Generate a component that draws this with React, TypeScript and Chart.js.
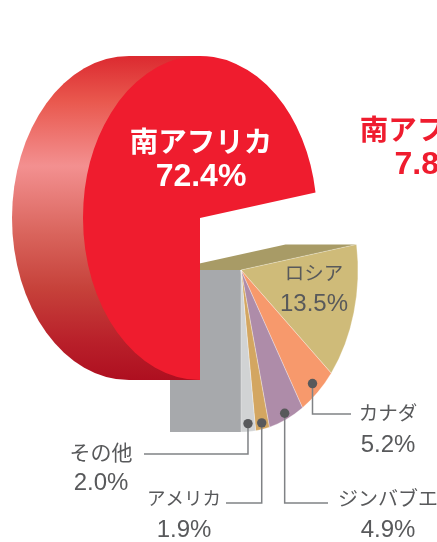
import React, { useEffect, useRef } from "react";
import { Chart, registerables } from "chart.js";

Chart.register(...registerables);

const categories = ["南アフリカ", "ロシア", "カナダ", "ジンバブエ", "アメリカ", "その他"];
const shares = [72.4, 13.5, 5.2, 4.9, 1.9, 2.0];
const sliceColors = ["#ef1c2e", "#cfbb79", "#f7996c", "#ae8ca9", "#d3a661", "#d1d3d4"];

const W = 437;
const H = 542;
const FONT = '"Liberation Sans", "Noto Sans CJK JP", sans-serif';
const GREY = "#58595b";
const RX = 117;
const RY = 162;
const DEPTH = 71;
const EXPLODE = { x: 41, y: 52 };

const labels = [
  { i: 0, x: 201, y: 144, size: 28.5, numSize: 32, gap: 33, weight: "bold", color: "#ffffff" },
  { i: 1, x: 314, y: 275, size: 19.5, numSize: 24, gap: 29, weight: "normal", color: GREY },
  { i: 2, x: 388, y: 415, size: 19.5, numSize: 24, gap: 30, weight: "normal", color: GREY },
  { i: 3, x: 388, y: 500, size: 20, numSize: 24, gap: 30, weight: "normal", color: GREY },
  { i: 4, x: 184, y: 500, size: 18.5, numSize: 24, gap: 30, weight: "normal", color: GREY },
  { i: 5, x: 101, y: 454, size: 21, numSize: 24, gap: 29, weight: "normal", color: GREY },
];

const leaders = [
  { i: 2, frac: 0.93, elbowY: 414, endX: 351 },
  { i: 3, frac: 0.96, elbowY: 503, endX: 328 },
  { i: 4, frac: 0.96, elbowY: 503, endX: 226 },
  { i: 5, frac: 0.95, elbowY: 454, endX: 144 },
];

const piePlugin = {
  id: "obliquePie",
  beforeDatasetsDraw(chart: any) {
    const ctx = chart.ctx;
    const arcs = chart.getDatasetMeta(0).data;
    const main = arcs[0];
    const sx = RX / main.outerRadius;
    const sy = RY / main.outerRadius;
    const cx = main.x;
    const cy = main.y;

    // Exploded group: cut faces behind the slices
    const ax = cx + EXPLODE.x;
    const ay = cy + EXPLODE.y;
    const rimA = arcs[1].startAngle;
    const rimX = ax + RX * Math.cos(rimA);
    const rimY = ay + RY * Math.sin(rimA);
    ctx.fillStyle = "#a89b66";
    ctx.beginPath();
    ctx.moveTo(ax, ay);
    ctx.lineTo(rimX, rimY);
    ctx.lineTo(rimX - DEPTH, rimY);
    ctx.lineTo(ax - DEPTH, ay);
    ctx.closePath();
    ctx.fill();
    ctx.fillStyle = "#a7a9ac";
    ctx.fillRect(ax - DEPTH, ay, DEPTH, RY);

    const drawArc = (el: any, ox: number, oy: number) => {
      ctx.save();
      ctx.translate(cx + ox, cy + oy);
      ctx.scale(sx, sy);
      ctx.translate(-cx, -cy);
      el.draw(ctx, chart.chartArea);
      ctx.restore();
    };
    for (let i = 1; i < arcs.length; i++) drawArc(arcs[i], EXPLODE.x, EXPLODE.y);

    // Main slice: extruded side wall
    const g = ctx.createLinearGradient(0, cy - RY, 0, cy + RY);
    g.addColorStop(0, "#dc2a30");
    g.addColorStop(0.14, "#e9584e");
    g.addColorStop(0.34, "#f39090");
    g.addColorStop(0.55, "#d9645c");
    g.addColorStop(0.72, "#c6413a");
    g.addColorStop(0.88, "#b9202a");
    g.addColorStop(1, "#ae0f20");
    ctx.fillStyle = g;
    ctx.beginPath();
    ctx.ellipse(cx - DEPTH, cy, RX, RY, 0, Math.PI / 2, Math.PI * 1.5);
    ctx.lineTo(cx, cy - RY);
    ctx.lineTo(cx, cy + RY);
    ctx.closePath();
    ctx.fill();

    drawArc(main, 0, 0);

    // Leader lines with dots
    ctx.lineJoin = "miter";
    for (const l of leaders) {
      const el = arcs[l.i];
      const mid = (el.startAngle + el.endAngle) / 2;
      const dx = ax + l.frac * RX * Math.cos(mid);
      const dy = ay + l.frac * RY * Math.sin(mid);
      ctx.strokeStyle = "#808285";
      ctx.lineWidth = 1.5;
      ctx.beginPath();
      ctx.moveTo(dx, dy);
      ctx.lineTo(dx, l.elbowY);
      ctx.lineTo(l.endX, l.elbowY);
      ctx.stroke();
      ctx.fillStyle = GREY;
      ctx.beginPath();
      ctx.arc(dx, dy, 4.7, 0, Math.PI * 2);
      ctx.fill();
    }

    // Text
    ctx.textAlign = "center";
    ctx.textBaseline = "middle";
    for (const t of labels) {
      ctx.fillStyle = t.color;
      ctx.font = `${t.weight} ${t.size}px ${FONT}`;
      ctx.fillText(categories[t.i], t.x, t.y);
      ctx.font = `${t.weight} ${t.numSize}px ${FONT}`;
      ctx.fillText(`${shares[t.i].toFixed(1)}%`, t.x, t.y + t.gap);
    }
    ctx.fillStyle = "#ef1c2e";
    ctx.font = `bold 28.5px ${FONT}`;
    ctx.fillText("南アフリカ", 431, 132);
    ctx.font = `bold 32px ${FONT}`;
    ctx.fillText("7.8%", 431, 165);

    return false;
  },
};

export default function App() {
  const ref = useRef<HTMLCanvasElement>(null);
  useEffect(() => {
    const chart = new Chart(ref.current!, {
      type: "pie",
      data: {
        labels: categories,
        datasets: [
          {
            data: shares,
            backgroundColor: sliceColors,
            borderColor: ["rgba(0,0,0,0)", ...categories.slice(1).map(() => "rgba(255,255,255,0.6)")],
            borderWidth: 0.6,
          },
        ],
      },
      options: {
        responsive: false,
        animation: false,
        rotation: 180,
        layout: { padding: { left: 38, right: 75, top: 56, bottom: 162 } },
        events: [],
        plugins: { legend: { display: false }, tooltip: { enabled: false } },
      },
      plugins: [piePlugin],
    } as any);
    return () => chart.destroy();
  }, []);
  return (
    <div style={{ position: "absolute", left: 0, top: 0, width: W, height: H, overflow: "hidden" }}>
      <canvas ref={ref} width={W} height={H} style={{ display: "block" }} />
    </div>
  );
}
